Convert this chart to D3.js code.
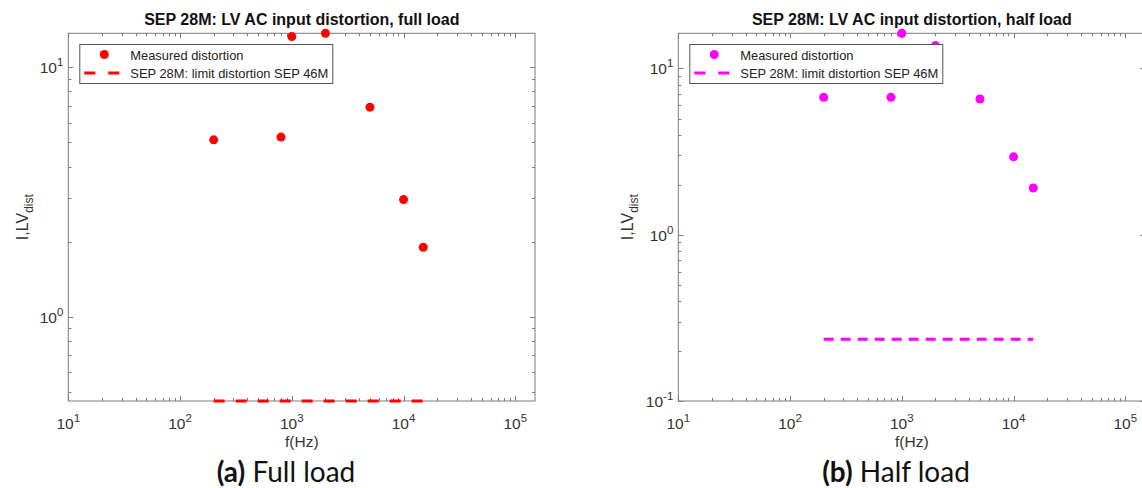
<!DOCTYPE html>
<html><head><meta charset="utf-8">
<script src="https://cdn.jsdelivr.net/npm/d3@7"></script>
<style>
html,body{margin:0;padding:0;background:#fff;}
svg{display:block;}
text{font-family:"Liberation Sans",Arial,sans-serif;}
</style></head>
<body>
<svg id="chart" width="1142" height="488"></svg>
<script>
// ---- data ----
const freqs = [200, 800, 1000, 2000, 5000, 10000, 15000];
const fullLoad = [5.12, 5.25, 13.27, 13.68, 6.92, 2.95, 1.90];
const halfLoad = [6.70, 6.70, 16.27, 13.73, 6.55, 2.94, 1.91];
const limitFreqs = [200, 15000];
const limitFull = [0.46, 0.46];
const limitHalf = [0.235, 0.235];
const xTickExps = [1, 2, 3, 4, 5];
const yTickExpsFull = [0, 1];
const yTickExpsHalf = [-1, 0, 1];
const titles = ["SEP 28M: LV AC input distortion, full load", "SEP 28M: LV AC input distortion, half load"];
const captionBold = ["(a)", "(b)"];
const captionText = [" Full load", " Half load"];
const legendLabels = ["Measured distortion", "SEP 28M: limit distortion SEP 46M"];
const xLabel = "f(Hz)";

const svg = d3.select("#chart");
const axisColor = "#7a7a7a";
const labelColor = "#333";

const panels = [
  {x0: 68.3, x1: 535, y0: 33.3, y1: 401, xDom: [10, 1.5e5], yDom: [0.46, 13.68],
   pts: fullLoad, lim: limitFull, color: "#ff0000", yExps: yTickExpsFull, ylabX: 28, capX: 286, dash: "11,11"},
  {x0: 678.3, x1: 1145, y0: 33.3, y1: 401, xDom: [10, 1.5e5], yDom: [0.1, 16.27],
   pts: halfLoad, lim: limitHalf, color: "#ff00ff", yExps: yTickExpsHalf, ylabX: 633, capX: 896, dash: "10,7"}
];

function minorTicks(dom) {
  const out = [];
  const lo = Math.floor(Math.log10(dom[0])), hi = Math.ceil(Math.log10(dom[1]));
  for (let e = lo; e <= hi; e++) for (let m = 1; m <= 9; m++) {
    const v = m * Math.pow(10, e);
    if (v >= dom[0] * 0.9999 && v <= dom[1] * 1.0001) out.push({v, major: m === 1});
  }
  return out;
}

panels.forEach((p, i) => {
  const g = svg.append("g");
  const x = d3.scaleLog().domain(p.xDom).range([p.x0, p.x1]);
  const y = d3.scaleLog().domain(p.yDom).range([p.y1, p.y0]);

  g.append("rect").attr("x", p.x0).attr("y", p.y0).attr("width", p.x1 - p.x0).attr("height", p.y1 - p.y0)
    .attr("fill", "none").attr("stroke", axisColor).attr("stroke-width", 1);

  minorTicks(p.xDom).forEach(t => {
    const xx = Math.round(x(t.v)) + 0.5, len = t.major ? 5 : 3;
    g.append("line").attr("x1", xx).attr("x2", xx).attr("y1", p.y1).attr("y2", p.y1 - len).attr("stroke", axisColor);
    g.append("line").attr("x1", xx).attr("x2", xx).attr("y1", p.y0).attr("y2", p.y0 + len).attr("stroke", axisColor);
  });
  minorTicks(p.yDom).forEach(t => {
    const yy = Math.round(y(t.v)) + 0.5, len = t.major ? 5 : 3;
    g.append("line").attr("y1", yy).attr("y2", yy).attr("x1", p.x0).attr("x2", p.x0 + len).attr("stroke", axisColor);
    g.append("line").attr("y1", yy).attr("y2", yy).attr("x1", p.x1).attr("x2", p.x1 - len).attr("stroke", axisColor);
  });

  xTickExps.forEach(e => {
    const t = g.append("text").attr("x", x(Math.pow(10, e))).attr("y", p.y1 + 28)
      .attr("text-anchor", "middle").attr("font-size", 15.5).attr("fill", labelColor);
    t.append("tspan").text("10");
    t.append("tspan").attr("dy", -7).attr("font-size", 11.5).text(String(e));
  });
  p.yExps.forEach(e => {
    const t = g.append("text").attr("x", p.x0 - 5).attr("y", y(Math.pow(10, e)) + 6)
      .attr("text-anchor", "end").attr("font-size", 15.5).attr("fill", labelColor);
    t.append("tspan").text("10");
    t.append("tspan").attr("dy", -7).attr("font-size", 11.5).text(e < 0 ? "-" + Math.abs(e) : String(e));
  });

  g.append("text").attr("x", (p.x0 + p.x0 + 467) / 2).attr("y", p.y1 + 46)
    .attr("text-anchor", "middle").attr("font-size", 15.5).attr("fill", labelColor).text(xLabel);
  const yl = g.append("text").attr("transform", `translate(${p.ylabX},${(p.y0 + p.y1) / 2}) rotate(-90)`)
    .attr("text-anchor", "middle").attr("font-size", 16).attr("fill", labelColor);
  yl.append("tspan").text("I,LV");
  yl.append("tspan").attr("dy", 5).attr("font-size", 12).text("dist");

  g.append("text").attr("x", (p.x0 + p.x0 + 467) / 2).attr("y", p.y0 - 8).attr("text-anchor", "middle")
    .attr("font-size", 16).attr("font-weight", "bold").attr("fill", "#111").text(titles[i]);

  g.append("path").datum(limitFreqs.map((f, k) => [f, p.lim[k]]))
    .attr("d", d3.line().x(d => x(d[0])).y(d => y(d[1])))
    .attr("stroke", p.color).attr("stroke-width", 3).attr("stroke-dasharray", p.dash).attr("fill", "none");

  g.selectAll("circle.pt").data(freqs.map((f, k) => [f, p.pts[k]])).enter().append("circle")
    .attr("cx", d => x(d[0])).attr("cy", d => y(d[1])).attr("r", 4.5).attr("fill", p.color);

  const lx = p.x0 + 11, ly = 44;
  const lg = g.append("g");
  lg.append("rect").attr("x", lx + 0.5).attr("y", ly + 0.5).attr("width", 253).attr("height", 39)
    .attr("fill", "#fff").attr("stroke", "#555").attr("stroke-width", 1);
  lg.append("circle").attr("cx", lx + 25).attr("cy", ly + 10.5).attr("r", 4.5).attr("fill", p.color);
  lg.append("line").attr("x1", lx + 5).attr("x2", lx + 40).attr("y1", ly + 29).attr("y2", ly + 29)
    .attr("stroke", p.color).attr("stroke-width", 3).attr("stroke-dasharray", "11,13");
  legendLabels.forEach((s, k) => {
    lg.append("text").attr("x", lx + 51).attr("y", ly + 15.5 + k * 18.5).attr("font-size", 12.9)
      .attr("fill", "#222").text(s);
  });

  const cap = g.append("text").attr("x", p.capX).attr("y", 482)
    .attr("text-anchor", "middle").attr("font-size", 28).attr("fill", "#111")
    .style("font-family", "Lato, 'Open Sans', sans-serif");
  cap.append("tspan").attr("font-weight", "bold").text(captionBold[i]);
  cap.append("tspan").text(captionText[i]);
});
</script>
</body></html>
